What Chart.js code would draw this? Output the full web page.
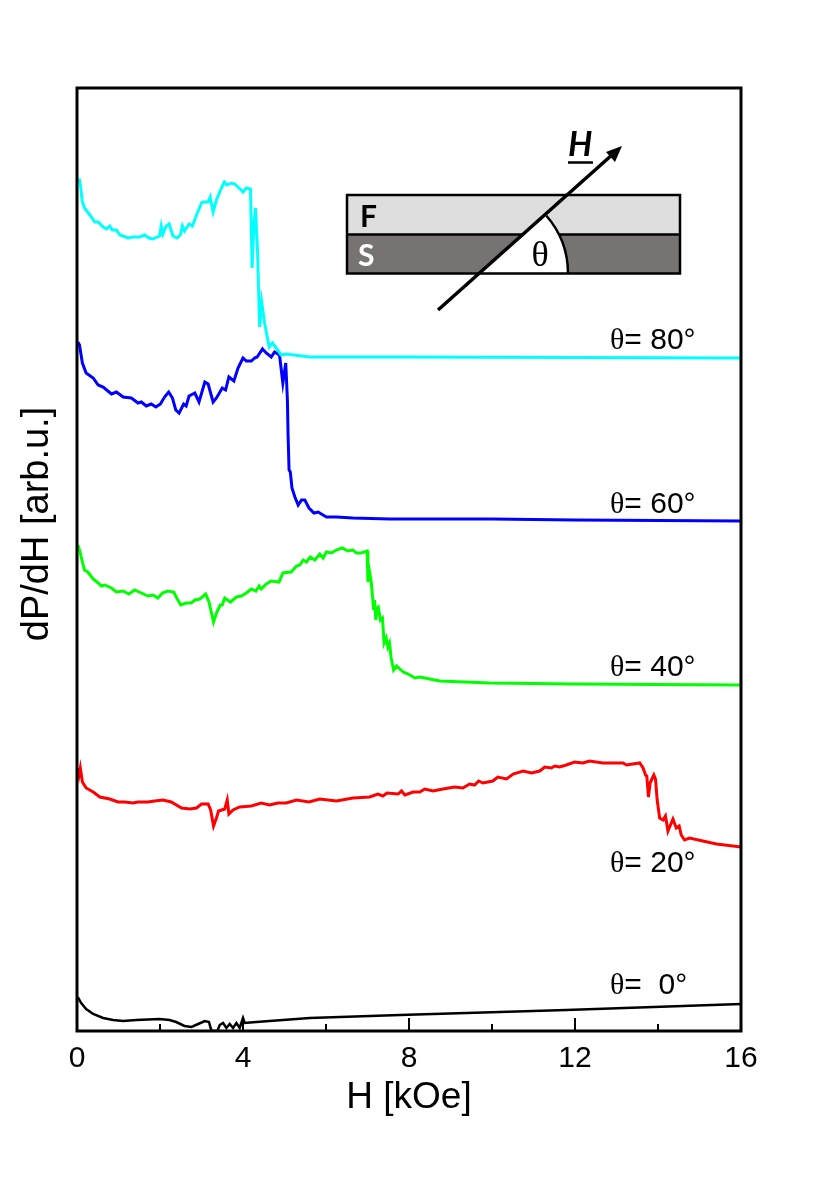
<!DOCTYPE html>
<html>
<head>
<meta charset="utf-8">
<title>dP/dH vs H</title>
<style>
    html, body { margin: 0; padding: 0; background: #fff; }
    canvas { display: block; }
</style>
<script src="https://cdn.jsdelivr.net/npm/chart.js@4"></script>
</head>
<body>
<canvas id="fmrChart" width="830" height="1178"></canvas>
<script>
// Tick values, H in kOe
const majorTicks = [0, 4, 8, 12, 16];
const minorTicks = [2, 6, 10, 14];

// Curve labels
const curveLabels = ['80°', '60°', '40°', '20°', ' 0°'];

// Values: H [kOe] and dP/dH [arb.u.]
const h80 = [0.02, 0.06, 0.09, 0.13, 0.18, 0.31, 0.43, 0.51, 0.63, 0.71, 0.79, 0.85, 0.95, 1.03, 1.11, 1.23, 1.35, 1.51, 1.63, 1.73, 1.83, 1.93, 1.99, 2.03, 2.07, 2.15, 2.22, 2.31, 2.41, 2.49, 2.54, 2.59, 2.70, 2.78, 2.88, 3.00, 3.04, 3.16, 3.21, 3.28, 3.36, 3.48, 3.55, 3.61, 3.72, 3.80, 3.88, 4.00, 4.08, 4.18, 4.22, 4.26, 4.30, 4.35, 4.40, 4.45, 4.52, 4.63, 4.71, 4.80, 4.92, 5.04, 5.61, 8, 12, 16];
const p80 = [8.51, 8.51, 8.43, 8.29, 8.23, 8.16, 8.09, 8.09, 8.04, 8.02, 8.05, 8.01, 8.01, 7.96, 7.95, 7.93, 7.94, 7.94, 7.96, 7.93, 7.92, 7.94, 7.95, 8.05, 7.97, 8.05, 8.07, 7.95, 7.93, 7.96, 8.05, 8.00, 8.07, 8.05, 8.16, 8.28, 8.29, 8.29, 8.34, 8.19, 8.31, 8.43, 8.49, 8.46, 8.48, 8.47, 8.44, 8.39, 8.43, 8.42, 7.63, 8.04, 8.23, 7.81, 7.04, 7.29, 7.08, 6.84, 6.88, 6.83, 6.76, 6.77, 6.74, 6.74, 6.735, 6.73];

const h60 = [0.02, 0.06, 0.13, 0.22, 0.39, 0.51, 0.63, 0.83, 0.95, 1.11, 1.31, 1.47, 1.55, 1.67, 1.79, 1.90, 2.01, 2.11, 2.21, 2.30, 2.38, 2.46, 2.57, 2.63, 2.70, 2.84, 2.94, 3.08, 3.16, 3.28, 3.36, 3.50, 3.58, 3.66, 3.78, 3.88, 4.00, 4.08, 4.20, 4.28, 4.34, 4.47, 4.56, 4.68, 4.76, 4.88, 4.96, 5.03, 5.07, 5.085, 5.11, 5.14, 5.18, 5.25, 5.33, 5.41, 5.49, 5.59, 5.71, 5.81, 6.01, 6.25, 6.65, 7.53, 10, 12, 16];
const p60 = [6.89, 6.86, 6.68, 6.58, 6.53, 6.46, 6.44, 6.37, 6.39, 6.34, 6.33, 6.28, 6.29, 6.25, 6.27, 6.24, 6.27, 6.34, 6.39, 6.33, 6.21, 6.18, 6.27, 6.25, 6.35, 6.38, 6.29, 6.49, 6.47, 6.29, 6.33, 6.43, 6.41, 6.54, 6.50, 6.63, 6.73, 6.70, 6.70, 6.73, 6.74, 6.82, 6.78, 6.74, 6.79, 6.76, 6.48, 6.68, 6.31, 5.98, 5.61, 5.59, 5.43, 5.34, 5.26, 5.31, 5.31, 5.23, 5.18, 5.19, 5.14, 5.14, 5.13, 5.12, 5.12, 5.11, 5.10];

const h40 = [0.02, 0.06, 0.13, 0.18, 0.26, 0.39, 0.51, 0.59, 0.67, 0.83, 0.95, 1.11, 1.25, 1.39, 1.55, 1.71, 1.83, 1.95, 2.06, 2.19, 2.33, 2.43, 2.50, 2.63, 2.75, 2.84, 2.96, 3.10, 3.18, 3.29, 3.37, 3.45, 3.50, 3.56, 3.70, 3.84, 3.96, 4.08, 4.20, 4.31, 4.39, 4.44, 4.56, 4.68, 4.87, 4.96, 5.16, 5.29, 5.37, 5.45, 5.53, 5.62, 5.73, 5.85, 5.93, 6.01, 6.13, 6.25, 6.39, 6.53, 6.65, 6.73, 6.85, 6.99, 7.01, 7.05, 7.09, 7.15, 7.17, 7.20, 7.23, 7.26, 7.31, 7.36, 7.40, 7.45, 7.49, 7.53, 7.57, 7.63, 7.70, 7.86, 7.98, 8.14, 8.26, 8.50, 8.74, 9.94, 12, 16];
const p40 = [4.86, 4.81, 4.69, 4.61, 4.59, 4.52, 4.48, 4.45, 4.46, 4.43, 4.39, 4.40, 4.37, 4.41, 4.38, 4.35, 4.36, 4.33, 4.38, 4.40, 4.39, 4.31, 4.26, 4.28, 4.28, 4.31, 4.32, 4.37, 4.29, 4.09, 4.19, 4.26, 4.26, 4.33, 4.29, 4.34, 4.35, 4.38, 4.42, 4.40, 4.45, 4.42, 4.47, 4.50, 4.49, 4.58, 4.59, 4.65, 4.66, 4.71, 4.69, 4.74, 4.71, 4.77, 4.73, 4.79, 4.78, 4.81, 4.83, 4.80, 4.81, 4.78, 4.78, 4.80, 4.49, 4.59, 4.49, 4.21, 4.31, 4.11, 4.23, 4.24, 4.11, 4.13, 3.88, 3.93, 3.84, 3.88, 3.73, 3.61, 3.65, 3.59, 3.57, 3.53, 3.54, 3.52, 3.50, 3.48, 3.47, 3.46];

const h20 = [0.02, 0.05, 0.08, 0.13, 0.22, 0.39, 0.55, 0.79, 0.99, 1.15, 1.35, 1.47, 1.71, 1.87, 2.07, 2.27, 2.52, 2.72, 2.88, 3.00, 3.16, 3.22, 3.29, 3.36, 3.41, 3.56, 3.62, 3.66, 3.76, 3.92, 4.20, 4.44, 4.64, 4.84, 5.04, 5.29, 5.59, 5.85, 6.25, 6.65, 7.05, 7.25, 7.37, 7.47, 7.74, 7.82, 7.90, 8.10, 8.26, 8.38, 8.58, 8.82, 9.10, 9.30, 9.46, 9.58, 9.68, 9.78, 10.02, 10.14, 10.35, 10.51, 10.75, 10.95, 11.15, 11.27, 11.43, 11.51, 11.63, 11.79, 11.99, 12.19, 12.35, 12.67, 13.16, 13.24, 13.56, 13.64, 13.70, 13.73, 13.77, 13.81, 13.90, 13.94, 13.98, 14.04, 14.12, 14.18, 14.24, 14.36, 14.44, 14.51, 14.56, 14.64, 14.76, 15.08, 15.41, 16];
const p20 = [2.63, 2.56, 2.63, 2.49, 2.43, 2.39, 2.34, 2.32, 2.29, 2.29, 2.28, 2.29, 2.29, 2.30, 2.31, 2.29, 2.23, 2.22, 2.23, 2.27, 2.27, 2.21, 2.05, 2.13, 2.20, 2.22, 2.31, 2.17, 2.21, 2.24, 2.25, 2.28, 2.26, 2.28, 2.28, 2.31, 2.29, 2.32, 2.30, 2.33, 2.34, 2.37, 2.35, 2.38, 2.37, 2.40, 2.36, 2.39, 2.39, 2.42, 2.40, 2.42, 2.44, 2.43, 2.47, 2.46, 2.50, 2.48, 2.50, 2.54, 2.52, 2.57, 2.60, 2.58, 2.60, 2.64, 2.63, 2.65, 2.64, 2.66, 2.69, 2.68, 2.70, 2.68, 2.68, 2.66, 2.68, 2.63, 2.56, 2.55, 2.34, 2.48, 2.56, 2.52, 2.31, 2.13, 2.11, 2.15, 2.00, 2.12, 2.03, 2.05, 1.96, 1.91, 1.93, 1.90, 1.87, 1.84];

const h0 = [0.02, 0.10, 0.22, 0.39, 0.63, 0.87, 1.11, 1.43, 1.99, 2.23, 2.39, 2.59, 2.76, 2.92, 3.08, 3.18, 3.22, 3.25, 3.38, 3.44, 3.52, 3.60, 3.68, 3.76, 3.84, 3.92, 4.00, 4.04, 4.32, 4.64, 5.61, 7.78, 11.79, 16];
const p0 = [0.34, 0.28, 0.22, 0.17, 0.13, 0.11, 0.10, 0.11, 0.12, 0.11, 0.09, 0.05, 0.04, 0.07, 0.10, 0.09, 0.03, 0.00, 0.00, 0.06, 0.08, 0.03, 0.07, 0.03, 0.08, 0.03, 0.13, 0.08, 0.09, 0.10, 0.13, 0.16, 0.21, 0.27];

const toPoints = (xs, ys) => xs.map((x, i) => ({ x: x, y: ys[i] }));

// Axes box, inward ticks, curve labels and the sample sketch
const decorations = {
    id: 'decorations',
    afterDraw(chart) {
        const ctx = chart.ctx;
        const area = chart.chartArea;
        const xScale = chart.scales.x;

        ctx.save();
        ctx.strokeStyle = '#000';
        ctx.lineWidth = 2;
        ctx.beginPath();
        majorTicks.forEach(v => {
            const px = xScale.getPixelForValue(v);
            ctx.moveTo(px, area.bottom);
            ctx.lineTo(px, area.bottom - 13);
        });
        minorTicks.forEach(v => {
            const px = xScale.getPixelForValue(v);
            ctx.moveTo(px, area.bottom);
            ctx.lineTo(px, area.bottom - 7);
        });
        ctx.stroke();
        ctx.lineWidth = 3;
        ctx.strokeRect(area.left, area.top, area.right - area.left, area.bottom - area.top);

        // y axis title sits above the middle of the axis
        ctx.save();
        ctx.translate(38, 524);
        ctx.rotate(-Math.PI / 2);
        ctx.font = '38px "Liberation Sans"';
        ctx.fillStyle = '#000';
        ctx.textAlign = 'center';
        ctx.textBaseline = 'middle';
        ctx.fillText('dP/dH [arb.u.]', 0, 0);
        ctx.restore();

        // curve labels
        const labelY = [349, 513, 676, 872, 994];
        ctx.textAlign = 'left';
        ctx.textBaseline = 'alphabetic';
        ctx.fillStyle = '#000';
        curveLabels.forEach((label, i) => {
            ctx.font = '30px "Liberation Serif"';
            ctx.fillText('θ', 610, labelY[i]);
            const w = ctx.measureText('θ').width;
            ctx.font = '30px "Liberation Sans"';
            ctx.fillText('= ' + label, 610 + w, labelY[i]);
        });

        drawSketch(ctx);
        ctx.restore();
    }
};

function drawSketch(ctx) {
    const left = 347, right = 680, top = 195, mid = 234.5, bottom = 273.5;
    const cx = 480, cy = bottom, r = 88, angle = 41 * Math.PI / 180;

    ctx.fillStyle = '#dddddd';
    ctx.fillRect(left, top, right - left, mid - top);
    ctx.fillStyle = '#787373';
    ctx.fillRect(left, mid, right - left, bottom - mid);

    ctx.strokeStyle = '#000';
    ctx.lineWidth = 2.5;
    ctx.beginPath();
    ctx.moveTo(left, mid);
    ctx.lineTo(right, mid);
    ctx.stroke();

    // white sector for the angle
    ctx.fillStyle = '#fff';
    ctx.beginPath();
    ctx.moveTo(cx, cy);
    ctx.arc(cx, cy, r, -angle, 0);
    ctx.closePath();
    ctx.fill();
    ctx.beginPath();
    ctx.arc(cx, cy, r, -angle, 0);
    ctx.stroke();

    ctx.strokeRect(left, top, right - left, bottom - top);

    // field arrow
    ctx.lineWidth = 3.5;
    ctx.beginPath();
    ctx.moveTo(438, 310);
    ctx.lineTo(613, 154);
    ctx.stroke();
    ctx.fillStyle = '#000';
    ctx.beginPath();
    ctx.moveTo(622, 146);
    ctx.lineTo(606, 152);
    ctx.lineTo(615, 162);
    ctx.closePath();
    ctx.fill();

    ctx.textBaseline = 'alphabetic';
    ctx.textAlign = 'left';
    ctx.font = 'bold italic 34px Lato';
    ctx.fillText('H', 568, 156);
    ctx.lineWidth = 2.5;
    ctx.beginPath();
    ctx.moveTo(568, 162.5);
    ctx.lineTo(593, 162.5);
    ctx.stroke();

    ctx.font = 'bold 30px Lato';
    ctx.fillStyle = '#000';
    ctx.fillText('F', 360, 227);
    ctx.fillStyle = '#fff';
    ctx.fillText('S', 358, 266);

    ctx.fillStyle = '#000';
    ctx.font = '36px "Liberation Serif"';
    ctx.textAlign = 'center';
    ctx.fillText('θ', 540, 266);
}

new Chart(document.getElementById('fmrChart').getContext('2d'), {
    type: 'line',
    data: {
        datasets: [
            { label: 'θ= 80°', data: toPoints(h80, p80), borderColor: '#00ffff', borderWidth: 3 },
            { label: 'θ= 60°', data: toPoints(h60, p60), borderColor: '#0000ff', borderWidth: 3 },
            { label: 'θ= 40°', data: toPoints(h40, p40), borderColor: '#00ff00', borderWidth: 3 },
            { label: 'θ= 20°', data: toPoints(h20, p20), borderColor: '#ff0000', borderWidth: 3 },
            { label: 'θ= 0°', data: toPoints(h0, p0), borderColor: '#000000', borderWidth: 2.5 }
        ]
    },
    options: {
        responsive: false,
        animation: false,
        elements: {
            line: { tension: 0 },
            point: { radius: 0 }
        },
        layout: {
            padding: { left: 0, right: 89, top: 88, bottom: 58 }
        },
        plugins: {
            legend: { display: false },
            tooltip: { enabled: false }
        },
        scales: {
            x: {
                type: 'linear',
                min: 0,
                max: 16,
                afterBuildTicks: scale => {
                    scale.ticks = majorTicks.map(v => ({ value: v }));
                },
                afterFit: scale => {
                    scale.height = 89;
                },
                grid: { display: false, drawTicks: false },
                border: { display: false },
                ticks: {
                    color: '#000',
                    padding: 10,
                    autoSkip: false,
                    maxRotation: 0,
                    font: { family: '"Liberation Sans"', size: 30 }
                },
                title: {
                    display: true,
                    text: 'H [kOe]',
                    color: '#000',
                    padding: 0,
                    font: { family: '"Liberation Sans"', size: 37 }
                }
            },
            y: {
                type: 'linear',
                min: 0,
                max: 9.43,
                afterFit: scale => {
                    scale.width = 77;
                },
                grid: { display: false, drawTicks: false },
                border: { display: false },
                ticks: { display: false }
            }
        }
    },
    plugins: [decorations]
});
</script>
</body>
</html>
